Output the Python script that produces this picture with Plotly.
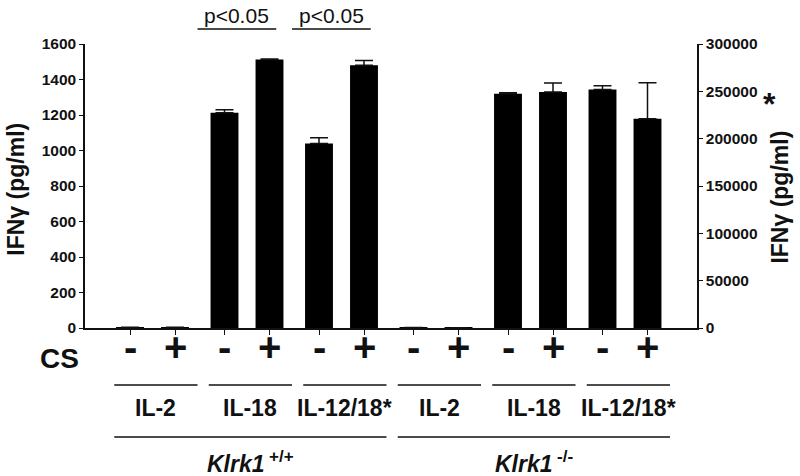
import plotly.graph_objects as go

# ---------------- data ----------------
cs_signs = ["-", "+"]
stimuli = ["IL-2", "IL-18", "IL-12/18*"]

# left axis (pg/ml): IL-2 and IL-18
wt_il2 = [4, 4]
wt_il2_err = [0, 0]
wt_il18 = [1212, 1512]
wt_il18_err = [18, 4]
ko_il2 = [3, 2]
ko_il2_err = [0, 0]
ko_il18 = [1320, 1330]
ko_il18_err = [6, 50]

# right axis (pg/ml)*: IL-12/18
wt_il1218 = [195000, 277500]
wt_il1218_err = [6000, 5000]
ko_il1218 = [252000, 221000]
ko_il1218_err = [4000, 38000]

left_ticks = list(range(0, 1601, 200))
right_ticks = list(range(0, 300001, 50000))

# ---------------- layout helpers ----------------
PAIR_STEP = 2.1
BAR_W = 0.62
pair_starts = [i * PAIR_STEP for i in range(6)]


def pos(pair):
    return [pair_starts[pair], pair_starts[pair] + 1]


FONT = "Arial, Liberation Sans, sans-serif"
INK = "#111111"

fig = go.Figure()


def add_bars(pair, vals, errs, yaxis):
    fig.add_trace(go.Bar(
        x=pos(pair), y=vals, width=BAR_W, yaxis=yaxis,
        marker=dict(color="black", line=dict(width=0)),
        error_y=dict(type="data", array=errs, symmetric=False,
                     arrayminus=[0] * len(errs), color=INK,
                     thickness=1.5, width=9),
        showlegend=False, hoverinfo="skip"))


add_bars(0, wt_il2, wt_il2_err, "y")
add_bars(1, wt_il18, wt_il18_err, "y")
add_bars(2, wt_il1218, wt_il1218_err, "y2")
add_bars(3, ko_il2, ko_il2_err, "y")
add_bars(4, ko_il18, ko_il18_err, "y")
add_bars(5, ko_il1218, ko_il1218_err, "y2")

all_pos = [p for k in range(6) for p in pos(k)]

shapes = []
annotations = []

# CS signs under each bar
for k in range(6):
    for j, s in enumerate(cs_signs):
        annotations.append(dict(x=pos(k)[j], y=-0.067, xref="x", yref="paper",
                                text=s, showarrow=False, xanchor="center", yanchor="middle",
                                font=dict(family=FONT, size=40, color=INK, weight="bold")))
annotations.append(dict(x=-0.042, y=-0.109, xref="paper", yref="paper", text="CS",
                        showarrow=False, xanchor="center", yanchor="middle",
                        font=dict(family=FONT, size=28, color=INK, weight="bold")))

# stimulus group lines and labels
for k in range(6):
    x0 = pair_starts[k] - 0.35
    x1 = pair_starts[k] + 1.5
    shapes.append(dict(type="line", xref="x", yref="paper", x0=x0, x1=x1,
                       y0=-0.2007, y1=-0.2007, line=dict(color=INK, width=1.5)))
    annotations.append(dict(x=(x0 + x1) / 2, y=-0.282, xref="x", yref="paper",
                            text=stimuli[k % 3], showarrow=False, xanchor="center",
                            yanchor="middle",
                            font=dict(family=FONT, size=23, color=INK, weight="bold")))

# genotype lines and labels
geno_html = ["<i>Klrk1</i><sup> <span style='font-size:17px'>+/+</span></sup>",
             "<i>Klrk1</i><sup> <span style='font-size:17px'>-/-</span></sup>"]
for g in range(2):
    x0 = pair_starts[3 * g] - 0.35
    x1 = pair_starts[3 * g + 2] + 1.5
    shapes.append(dict(type="line", xref="x", yref="paper", x0=x0, x1=x1,
                       y0=-0.384, y1=-0.384, line=dict(color=INK, width=1.5)))
    annotations.append(dict(x=(x0 + x1) / 2, y=-0.472, xref="x", yref="paper",
                            text=geno_html[g], showarrow=False, xanchor="center",
                            yanchor="middle",
                            font=dict(family=FONT, size=23, color=INK, weight="bold")))

# significance brackets
for k in (1, 2):
    x0 = pair_starts[k] - 0.6
    x1 = pair_starts[k] + 1.15
    shapes.append(dict(type="line", xref="x", yref="paper", x0=x0, x1=x1,
                       y0=1.053, y1=1.053, line=dict(color=INK, width=1.5)))
    annotations.append(dict(x=(x0 + x1) / 2, y=1.102, xref="x", yref="paper",
                            text="p<0.05", showarrow=False, xanchor="center", yanchor="middle",
                            font=dict(family=FONT, size=21, color=INK)))

# axis titles
annotations.append(dict(x=-0.113, y=0.49, xref="paper", yref="paper",
                        text="IFNγ (pg/ml)", textangle=-90, showarrow=False,
                        xanchor="center", yanchor="middle",
                        font=dict(family=FONT, size=23, color=INK, weight="bold")))
annotations.append(dict(x=1.136, y=0.46, xref="paper", yref="paper",
                        text="IFNγ (pg/ml)", textangle=-90, showarrow=False,
                        xanchor="center", yanchor="middle",
                        font=dict(family=FONT, size=23, color=INK, weight="bold")))
annotations.append(dict(x=1.119, y=0.79, xref="paper", yref="paper",
                        text="*", showarrow=False, xanchor="center", yanchor="middle",
                        font=dict(family=FONT, size=32, color=INK, weight="bold")))

tickfont = dict(family=FONT, size=15.5, color=INK, weight="bold")

fig.update_layout(
    width=800, height=476,
    margin=dict(l=85, r=103, t=44, b=148, pad=0),
    paper_bgcolor="white", plot_bgcolor="white",
    barmode="overlay",
    xaxis=dict(range=[-1.0, 12.6], showline=True, linecolor=INK, linewidth=1.5,
               ticks="outside", ticklen=5, tickwidth=1, tickcolor=INK,
               tickvals=all_pos, showticklabels=False,
               showgrid=False, zeroline=False, fixedrange=True),
    yaxis=dict(range=[0, 1600], tickvals=left_ticks, showline=True, linecolor=INK,
               linewidth=1.5, ticks="outside", ticklen=4, tickcolor=INK,
               tickfont=tickfont, showgrid=False, zeroline=False),
    yaxis2=dict(range=[0, 300000], tickvals=right_ticks, overlaying="y", side="right",
                showline=True, linecolor=INK, linewidth=1.5, ticks="outside",
                ticklen=4, tickcolor=INK, tickfont=tickfont, showgrid=False,
                zeroline=False, tickformat="d"),
    shapes=shapes,
    annotations=annotations,
)

fig.write_html("out.html", config={"displayModeBar": False},
               post_script="document.body.style.margin='0';document.body.style.padding='0';")
